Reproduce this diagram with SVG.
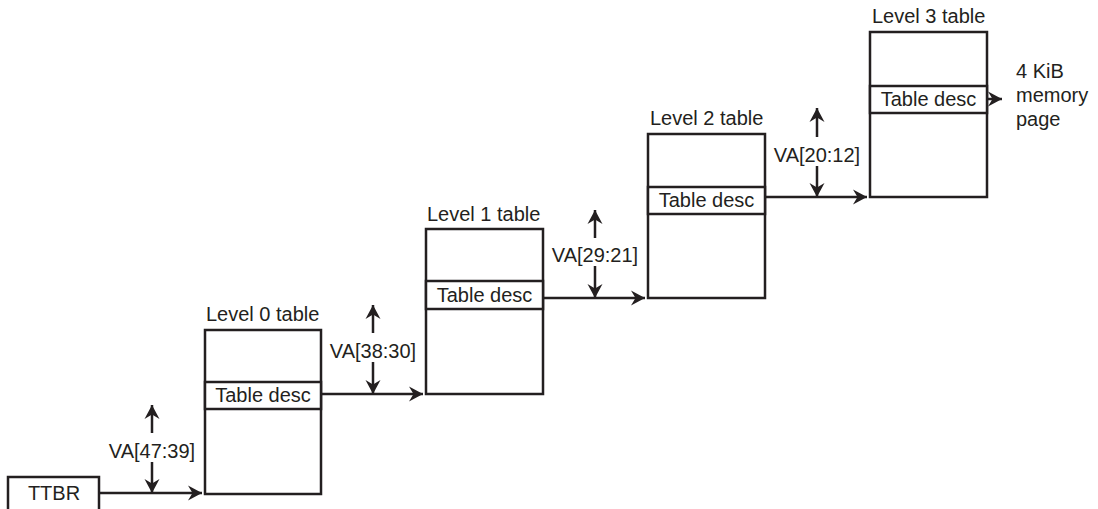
<svg xmlns="http://www.w3.org/2000/svg" width="1098" height="509" viewBox="0 0 1098 509">
<style>
.box{fill:#fff;stroke:#231f20;stroke-width:2.5}
.ln{fill:none;stroke:#231f20;stroke-width:2.5}
.t{font-family:"Liberation Sans",Arial,sans-serif;font-size:20px;fill:#231f20}
.m{text-anchor:middle}
</style>
<defs>
<marker id="ah" markerUnits="userSpaceOnUse" markerWidth="20" markerHeight="20" viewBox="-16 -10 20 20" refX="0" refY="0" orient="auto">
<path d="M0,0 L-14,-7.5 L-9.5,0 L-14,7.5 Z" fill="#231f20"/>
</marker>
</defs>
<rect width="1098" height="509" fill="#fff"/>
<g id="ttbr">
<rect class="box" x="8" y="477" width="91" height="45"/>
<text class="t m" x="54" y="500">TTBR</text>
</g>
<g id="level0">
<text class="t" x="206" y="321">Level 0 table</text>
<rect class="box" x="205" y="330" width="116" height="164"/>
<rect class="box" x="205" y="382" width="116" height="27"/>
<text class="t m" x="263" y="402">Table desc</text>
</g>
<g id="level1">
<text class="t" x="427" y="221">Level 1 table</text>
<rect class="box" x="426" y="229" width="117" height="165"/>
<rect class="box" x="426" y="281" width="117" height="28"/>
<text class="t m" x="484.5" y="302">Table desc</text>
</g>
<g id="level2">
<text class="t" x="650" y="125">Level 2 table</text>
<rect class="box" x="648" y="134" width="117" height="164"/>
<rect class="box" x="648" y="187" width="117" height="27"/>
<text class="t m" x="706.5" y="207">Table desc</text>
</g>
<g id="level3">
<text class="t" x="872" y="23">Level 3 table</text>
<rect class="box" x="870" y="32" width="117" height="165"/>
<rect class="box" x="870" y="86" width="117" height="27"/>
<text class="t m" x="928.5" y="106">Table desc</text>
</g>
<g id="page">
<text class="t" x="1016" y="78">4 KiB</text>
<text class="t" x="1016" y="102">memory</text>
<text class="t" x="1016" y="126">page</text>
</g>
<g id="labels">
<text class="t m" x="152" y="458">VA[47:39]</text>
<text class="t m" x="373" y="358">VA[38:30]</text>
<text class="t m" x="595" y="262">VA[29:21]</text>
<text class="t m" x="817" y="162">VA[20:12]</text>
</g>
<g id="connectors">
<line class="ln" x1="99" y1="493" x2="202" y2="493" marker-end="url(#ah)"/>
<line class="ln" x1="152" y1="433" x2="152" y2="405" marker-end="url(#ah)"/>
<line class="ln" x1="152" y1="462" x2="152" y2="493" marker-end="url(#ah)"/>
<line class="ln" x1="321" y1="394" x2="423" y2="394" marker-end="url(#ah)"/>
<line class="ln" x1="373" y1="333" x2="373" y2="305" marker-end="url(#ah)"/>
<line class="ln" x1="373" y1="362" x2="373" y2="394" marker-end="url(#ah)"/>
<line class="ln" x1="543" y1="298" x2="645" y2="298" marker-end="url(#ah)"/>
<line class="ln" x1="595" y1="238" x2="595" y2="210" marker-end="url(#ah)"/>
<line class="ln" x1="595" y1="266" x2="595" y2="298" marker-end="url(#ah)"/>
<line class="ln" x1="765" y1="197" x2="867" y2="197" marker-end="url(#ah)"/>
<line class="ln" x1="817" y1="137" x2="817" y2="108" marker-end="url(#ah)"/>
<line class="ln" x1="817" y1="166" x2="817" y2="197" marker-end="url(#ah)"/>
<line class="ln" x1="987" y1="99" x2="1002" y2="99" marker-end="url(#ah)"/>
</g>
</svg>
